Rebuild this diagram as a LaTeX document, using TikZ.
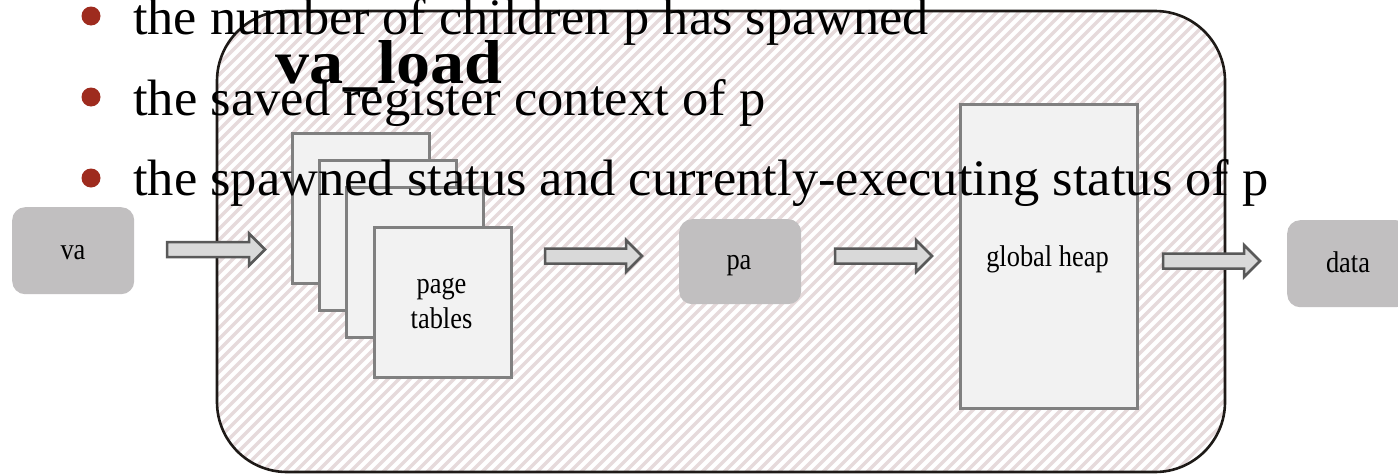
\documentclass[tikz,border=0pt]{standalone}
\usepackage{fontspec}
\setmainfont{Liberation Serif}
\usepackage{graphicx}
\usetikzlibrary{calc}

\definecolor{boxgray}{RGB}{193,191,192}
\definecolor{arrowfill}{RGB}{217,217,217}
\definecolor{arrowline}{RGB}{89,89,89}
\definecolor{sheetfill}{RGB}{242,242,242}
\definecolor{sheetline}{RGB}{128,128,128}
\definecolor{hatchpink}{RGB}{230,218,219}
\definecolor{bulletred}{RGB}{158,43,30}
\definecolor{framecol}{RGB}{30,26,23}

% condensed label text
\newcommand\lbl[1]{\scalebox{0.88}[1]{#1}}
% block arrow between two named points
\newcommand\blockarrow[2]{%
  \draw[flowarrow] ($(#1)+(0,-7.5)$) -- ($(#2)+(-16,-7.5)$) -- ($(#2)+(-16,-16)$)
    -- (#2) -- ($(#2)+(-16,16)$) -- ($(#2)+(-16,7.5)$) -- ($(#1)+(0,7.5)$) -- cycle;}

\begin{document}
\begin{tikzpicture}[x=1pt,y=-1pt,
  keybox/.style={rectangle, rounded corners=13pt, fill=boxgray, draw=none,
    minimum width=122pt, inner sep=0pt, anchor=north west},
  sheetbox/.style={rectangle, fill=sheetfill, draw=sheetline, line width=2.5pt,
    minimum width=137pt, minimum height=150pt, inner sep=0pt, anchor=north west},
  flowarrow/.style={fill=arrowfill, draw=arrowline, line width=2.5pt, line join=miter},
  hatchline/.style={draw=hatchpink, line width=3.3pt},
  labeltext/.style={font=\fontsize{30}{36}\selectfont, inner sep=0pt, anchor=base},
  linetext/.style={inner sep=0pt, anchor=base west},
  bulletdot/.style={circle, fill=bulletred, minimum size=19pt, inner sep=0pt}]

\useasboundingbox (0,0) rectangle (1398,474);
\clip (0,0) rectangle (1398,474);
\fill[white] (0,0) rectangle (1398,474);

% hatched frame
\begin{scope}
  \clip[rounded corners=70pt] (217,11) rectangle (1225,472);
  \fill[white] (217,11) rectangle (1225,472);
  \foreach \i in {0,...,134}
    \draw[hatchline] ({-244+11*\i},472) -- ++(461,-461);
\end{scope}
\draw[framecol, line width=2.6pt, rounded corners=70pt] (217,11) rectangle (1225,472);

% address boxes
\node[keybox, minimum height=87pt] (va) at (12,207) {};
\node[keybox, minimum height=85pt] (pa) at (679,219) {};
\node[keybox, minimum height=87pt] (data) at (1287,220) {};
\node[labeltext] (valbl) at (73,259) {\lbl{va}};
\node[labeltext] (palbl) at (739,269) {\lbl{pa}};
\node[labeltext] (datalbl) at (1348,272) {\lbl{data}};

% stacked page tables
\node[sheetbox] (pt1) at (291,132) {};
\node[sheetbox] (pt2) at (318,159) {};
\node[sheetbox] (pt3) at (345,186) {};
\node[sheetbox] (pt4) at (373,226) {};
\node[labeltext] (ptlbl1) at (441.5,293) {\lbl{page}};
\node[labeltext] (ptlbl2) at (441.5,328) {\lbl{tables}};

% global heap
\node[sheetbox, minimum width=177pt, minimum height=304pt] (heap) at (959,103) {};
\node[labeltext] (heaplbl) at (1047.5,266) {\lbl{global heap}};

% flow arrows
\coordinate (a1s) at (167,249.5);  \coordinate (a1e) at (265,249.5);
\coordinate (a2s) at (545,256);    \coordinate (a2e) at (642,256);
\coordinate (a3s) at (835,256);    \coordinate (a3e) at (932,256);
\coordinate (a4s) at (1163,261);   \coordinate (a4e) at (1260,261);
\blockarrow{a1s}{a1e}
\blockarrow{a2s}{a2e}
\blockarrow{a3s}{a3e}
\blockarrow{a4s}{a4e}

% title
\node[linetext] (title) at (275,83) {\resizebox{227pt}{43pt}{\bfseries va\_load}};

% bullet list
\node[bulletdot] (b1) at (91,16) {};
\node[bulletdot] (b2) at (91,97) {};
\node[bulletdot] (b3) at (91,178) {};
\node[linetext] (l1) at (133,34) {\resizebox{795pt}{36pt}{the number of children p has spawned}};
\node[linetext] (l2) at (133,115) {\resizebox{632pt}{36pt}{the saved register context of p}};
\node[linetext] (l3) at (133,195) {\resizebox{1135pt}{36pt}{the spawned status and currently-executing status of p}};
\end{tikzpicture}
\end{document}
